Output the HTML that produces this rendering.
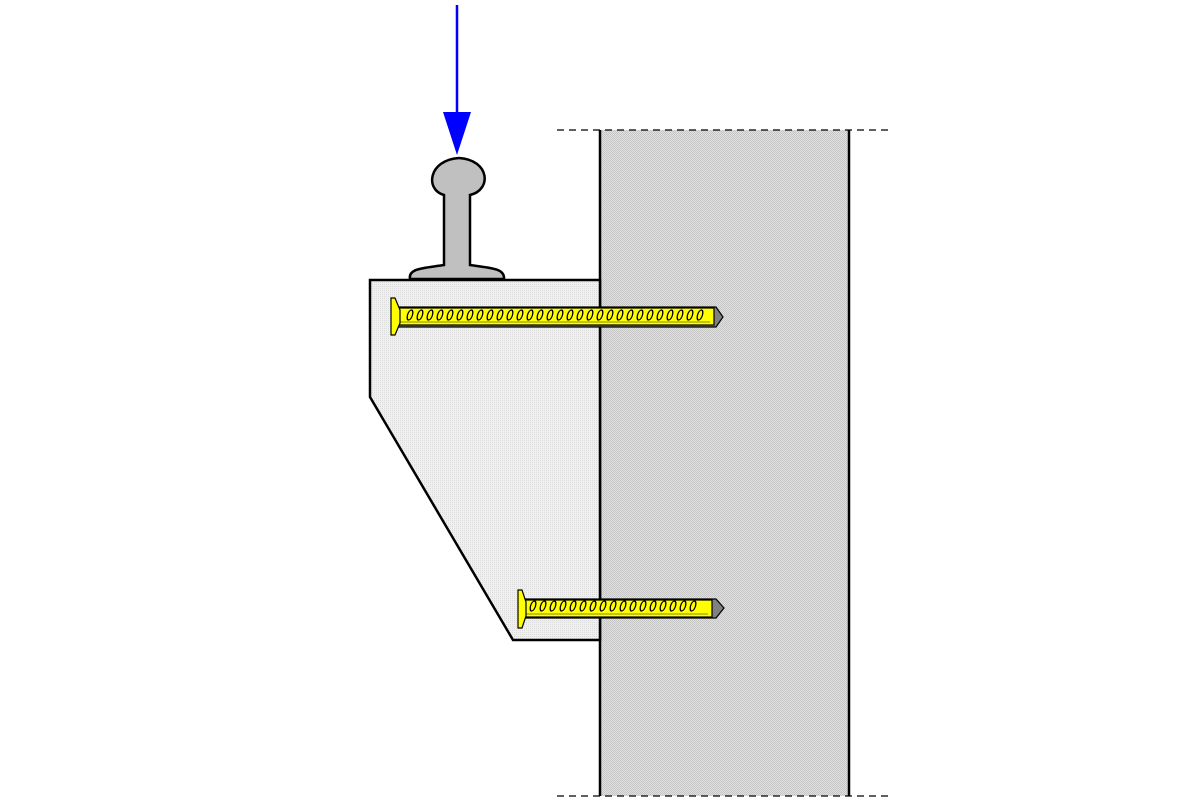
<!DOCTYPE html>
<html><head><style>html,body{margin:0;padding:0;background:#fff}</style></head><body>
<svg width="1200" height="800" viewBox="0 0 1200 800" xmlns="http://www.w3.org/2000/svg">
<defs>
<pattern id="pw" width="2" height="2" patternUnits="userSpaceOnUse"><rect width="2" height="2" fill="#e0e0e0"/><rect width="1" height="1" fill="#c4c4c4"/><rect x="1" y="1" width="1" height="1" fill="#c8c8c8"/></pattern>
<pattern id="pb" width="2" height="2" patternUnits="userSpaceOnUse"><rect width="2" height="2" fill="#f0f0f0"/><rect width="1" height="1" fill="#dcdcdc"/></pattern>
</defs>
<rect x="600" y="130" width="249" height="666" fill="url(#pw)"/>
<line x1="600" y1="130" x2="600" y2="796" stroke="#000" stroke-width="2.5"/>
<line x1="849" y1="130" x2="849" y2="796" stroke="#000" stroke-width="2.5"/>
<line x1="557" y1="130" x2="893" y2="130" stroke="#000" stroke-width="1.2" stroke-dasharray="7,5"/>
<line x1="557" y1="796" x2="893" y2="796" stroke="#000" stroke-width="1.2" stroke-dasharray="7,5"/>
<polygon points="370,280 600,280 600,640 513,640 370,397" fill="url(#pb)" stroke="#000" stroke-width="2.5"/>
<path d="M444,195 C425,190 428,160 459,158 C490,160 492,190 470,195 L470,265 C490,268 505,268 504,279 L410,279 C408,268 425,268 444,265 Z" fill="#c0c0c0" stroke="#000" stroke-width="2.5"/>
<line x1="457" y1="5" x2="457" y2="118" stroke="#0000ff" stroke-width="2.5"/>
<polygon points="443,112 471,112 457,155" fill="#0000ff"/>
<polygon points="397,307 716,307 723,317 716,327 397,327" fill="#808080" stroke="#000" stroke-width="1.2"/>
<rect x="397" y="308" width="317" height="17" fill="#ffff00" stroke="#000" stroke-width="1.2"/>
<line x1="400" y1="322" x2="710" y2="322" stroke="#8a8a00" stroke-width="1"/>
<polygon points="391,298 395,298 400,310 400,323 395,335 391,335" fill="#ffff00" stroke="#000" stroke-width="1.2"/>
<g fill="none" stroke="#000" stroke-width="1.3" transform="translate(84.4,0) skewX(-15)">
<ellipse cx="410" cy="315" rx="2.5" ry="5"/><ellipse cx="420" cy="315" rx="2.5" ry="5"/><ellipse cx="430" cy="315" rx="2.5" ry="5"/><ellipse cx="440" cy="315" rx="2.5" ry="5"/><ellipse cx="450" cy="315" rx="2.5" ry="5"/><ellipse cx="460" cy="315" rx="2.5" ry="5"/><ellipse cx="470" cy="315" rx="2.5" ry="5"/><ellipse cx="480" cy="315" rx="2.5" ry="5"/><ellipse cx="490" cy="315" rx="2.5" ry="5"/><ellipse cx="500" cy="315" rx="2.5" ry="5"/><ellipse cx="510" cy="315" rx="2.5" ry="5"/><ellipse cx="520" cy="315" rx="2.5" ry="5"/><ellipse cx="530" cy="315" rx="2.5" ry="5"/><ellipse cx="540" cy="315" rx="2.5" ry="5"/><ellipse cx="550" cy="315" rx="2.5" ry="5"/><ellipse cx="560" cy="315" rx="2.5" ry="5"/><ellipse cx="570" cy="315" rx="2.5" ry="5"/><ellipse cx="580" cy="315" rx="2.5" ry="5"/><ellipse cx="590" cy="315" rx="2.5" ry="5"/><ellipse cx="600" cy="315" rx="2.5" ry="5"/><ellipse cx="610" cy="315" rx="2.5" ry="5"/><ellipse cx="620" cy="315" rx="2.5" ry="5"/><ellipse cx="630" cy="315" rx="2.5" ry="5"/><ellipse cx="640" cy="315" rx="2.5" ry="5"/><ellipse cx="650" cy="315" rx="2.5" ry="5"/><ellipse cx="660" cy="315" rx="2.5" ry="5"/><ellipse cx="670" cy="315" rx="2.5" ry="5"/><ellipse cx="680" cy="315" rx="2.5" ry="5"/><ellipse cx="690" cy="315" rx="2.5" ry="5"/><ellipse cx="700" cy="315" rx="2.5" ry="5"/>
</g>
<polygon points="523,599 716,599 724,608 716,618 523,618" fill="#808080" stroke="#000" stroke-width="1.2"/>
<rect x="523" y="600" width="189" height="17" fill="#ffff00" stroke="#000" stroke-width="1.2"/>
<line x1="526" y1="614" x2="708" y2="614" stroke="#8a8a00" stroke-width="1"/>
<polygon points="518,590 522,590 526,602 526,616 522,628 518,628" fill="#ffff00" stroke="#000" stroke-width="1.2"/>
<g fill="none" stroke="#000" stroke-width="1.3" transform="translate(162.4,0) skewX(-15)">
<ellipse cx="533" cy="606" rx="2.5" ry="5"/><ellipse cx="543" cy="606" rx="2.5" ry="5"/><ellipse cx="553" cy="606" rx="2.5" ry="5"/><ellipse cx="563" cy="606" rx="2.5" ry="5"/><ellipse cx="573" cy="606" rx="2.5" ry="5"/><ellipse cx="583" cy="606" rx="2.5" ry="5"/><ellipse cx="593" cy="606" rx="2.5" ry="5"/><ellipse cx="603" cy="606" rx="2.5" ry="5"/><ellipse cx="613" cy="606" rx="2.5" ry="5"/><ellipse cx="623" cy="606" rx="2.5" ry="5"/><ellipse cx="633" cy="606" rx="2.5" ry="5"/><ellipse cx="643" cy="606" rx="2.5" ry="5"/><ellipse cx="653" cy="606" rx="2.5" ry="5"/><ellipse cx="663" cy="606" rx="2.5" ry="5"/><ellipse cx="673" cy="606" rx="2.5" ry="5"/><ellipse cx="683" cy="606" rx="2.5" ry="5"/><ellipse cx="693" cy="606" rx="2.5" ry="5"/>
</g>
</svg>
</body></html>
